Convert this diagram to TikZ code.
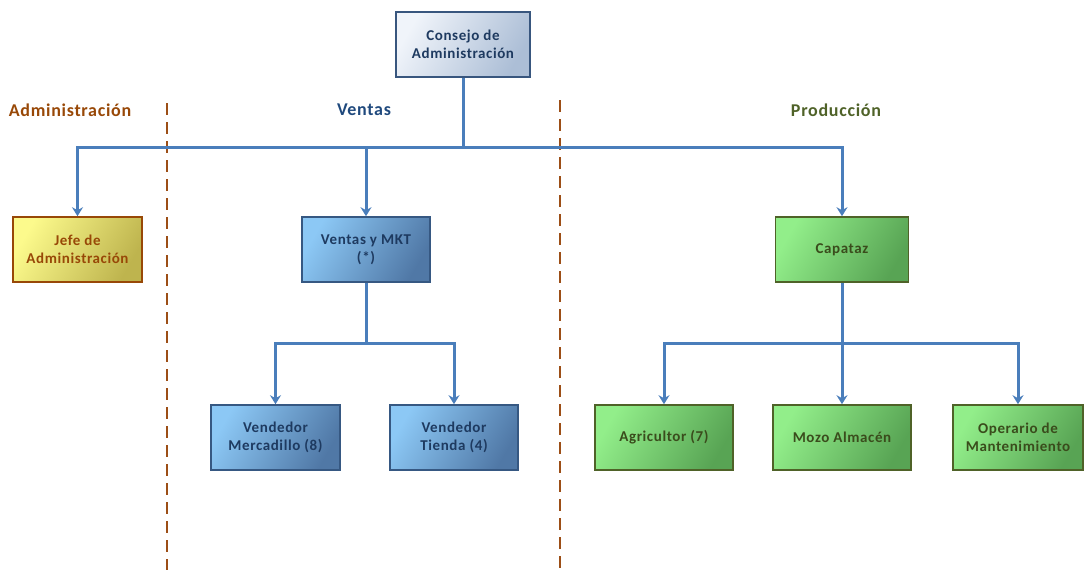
\documentclass[tikz,border=0pt]{standalone}
\usepackage{fontspec}
\setmainfont{Carlito}[LetterSpace=4]
\usetikzlibrary{arrows.meta}
\definecolor{linkblue}{HTML}{4A7EBB}
\definecolor{divbrown}{HTML}{9C4E16}
\definecolor{admtext}{HTML}{984807}
\definecolor{ventext}{HTML}{1F497D}
\definecolor{protext}{HTML}{4F6228}
\definecolor{boxtextblue}{HTML}{1E3A60}
\definecolor{boxtextgreen}{HTML}{3A4C1C}
\tikzset{
  x=1pt, y=-1pt,
  unitbox/.style={draw, line width=1.6pt, minimum width=#1, minimum height=65pt,
    align=center, font=\bfseries\fontsize{15}{18}\selectfont, inner sep=2pt},
  boardbox/.style={unitbox=134pt, draw={rgb,255:red,56;green,86;blue,126}, text=boxtextblue,
    top color={rgb,255:red,240;green,244;blue,250}, bottom color={rgb,255:red,172;green,190;blue,214},
    shading angle=60},
  yellowbox/.style={unitbox=129pt, draw=admtext, text=admtext,
    top color={rgb,255:red,252;green,250;blue,140}, bottom color={rgb,255:red,190;green,180;blue,78},
    shading angle=60},
  bluebox/.style={unitbox=128pt, draw={rgb,255:red,54;green,88;blue,130}, text=boxtextblue,
    top color={rgb,255:red,140;green,200;blue,245}, bottom color={rgb,255:red,80;green,120;blue,166},
    shading angle=60},
  greenbox/.style={unitbox=136pt, draw=protext, text=boxtextgreen,
    top color={rgb,255:red,146;green,238;blue,138}, bottom color={rgb,255:red,88;green,164;blue,84},
    shading angle=60},
  link/.style={draw=linkblue, line width=3pt},
  arrowlink/.style={link, -{Stealth[length=9pt,width=11pt,inset=3pt]}},
  divider/.style={draw=divbrown, line width=2.4pt, dash pattern=on 12pt off 7pt},
  area/.style={font=\bfseries\fontsize{18}{20}\selectfont}
}
\begin{document}
\begin{tikzpicture}
\useasboundingbox (0,0) rectangle (1085,570);

% department dividers
\coordinate (d1a) at (167,103); \coordinate (d1b) at (167,570);
\coordinate (d2a) at (560,100); \coordinate (d2b) at (560,570);
\draw[divider] (d1a) -- (d1b);
\draw[divider] (d2a) -- (d2b);

% department titles
\node[area, text=admtext] (tadm) at (70,110) {Administración};
\node[area, text=ventext] (tven) at (364,110) {Ventas};
\node[area, text=protext] (tpro) at (836,110) {Producción};

% boxes
\node[boardbox] (consejo) at (463,44.5) {Consejo de\\Administración};
\node[yellowbox] (jefe) at (77.5,249.5) {Jefe de\\Administración};
\node[bluebox] (ventas) at (366,249.5) {Ventas y MKT\\(*)};
\node[greenbox, minimum width=133pt] (capataz) at (842,249.5) {Capataz};
\node[bluebox, minimum width=129pt] (merc) at (275.5,437.5) {Vendedor\\Mercadillo (8)};
\node[bluebox] (tienda) at (454,437.5) {Vendedor\\Tienda (4)};
\node[greenbox, minimum width=138pt] (agri) at (664,437.5) {Agricultor (7)};
\node[greenbox, minimum width=138pt] (mozo) at (842,437.5) {Mozo Almacén};
\node[greenbox, minimum width=130pt] (oper) at (1018,437.5) {Operario de\\Mantenimiento};

% connectors
\coordinate (bus1) at (463,147);
\coordinate (bus2) at (366,343);
\coordinate (bus3) at (842,343);
\draw[link] (consejo.south) -- (bus1);
\draw[arrowlink] (bus1) -| (jefe.north);
\draw[arrowlink] (bus1) -| (capataz.north);
\draw[arrowlink] (ventas.north |- bus1) -- (ventas.north);

\draw[link] (ventas.south) -- (bus2);
\draw[arrowlink] (bus2) -| (merc.north);
\draw[arrowlink] (bus2) -| (tienda.north);

\draw[link] (capataz.south) -- (bus3);
\draw[arrowlink] (bus3) -| (agri.north);
\draw[arrowlink] (bus3) -| (oper.north);
\draw[arrowlink] (bus3) -- (mozo.north);
\end{tikzpicture}
\end{document}
